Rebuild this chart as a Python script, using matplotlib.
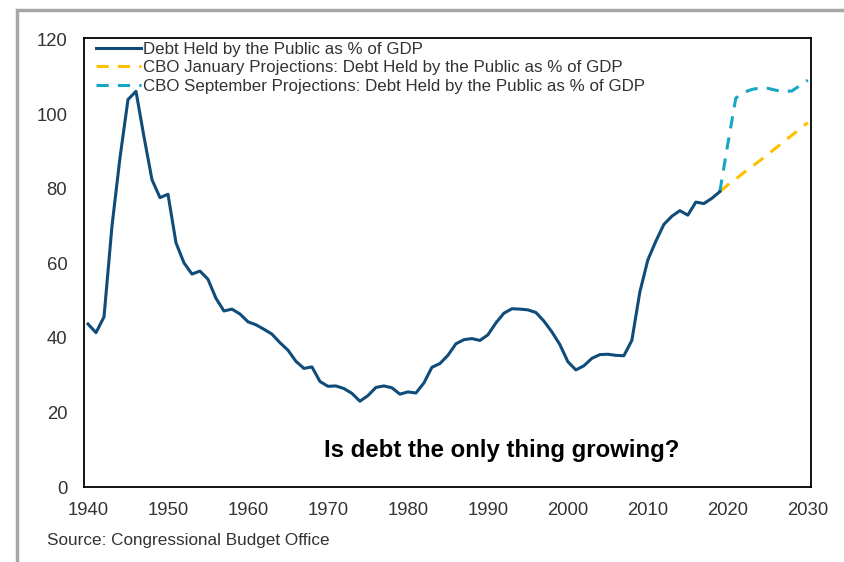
import matplotlib.pyplot as plt
from matplotlib.patches import Rectangle

plt.rcParams['font.family'] = ['Liberation Sans', 'DejaVu Sans']

# debt held by the public, % of GDP (history)
years = list(range(1940, 2020))
debt = [43.7, 41.4, 45.6, 70.0, 88.3, 103.9, 106.1, 93.9, 82.4, 77.6,
        78.5, 65.5, 60.1, 57.1, 57.9, 55.7, 50.6, 47.2, 47.7, 46.4,
        44.3, 43.5, 42.3, 41.0, 38.7, 36.7, 33.7, 31.8, 32.2, 28.3,
        27.0, 27.1, 26.4, 25.1, 23.0, 24.5, 26.7, 27.1, 26.6, 24.9,
        25.5, 25.2, 27.9, 32.1, 33.1, 35.3, 38.4, 39.5, 39.8, 39.3,
        40.8, 44.0, 46.6, 47.8, 47.7, 47.5, 46.8, 44.5, 41.6, 38.2,
        33.6, 31.4, 32.5, 34.5, 35.5, 35.6, 35.3, 35.2, 39.3, 52.3,
        60.9, 65.9, 70.4, 72.6, 74.1, 72.9, 76.4, 76.0, 77.4, 79.2]

# CBO projections
proj_years = list(range(2019, 2031))
jan_proj = [79.2, 81.0, 82.6, 84.3, 85.9, 87.5, 89.2, 90.9, 92.6, 94.3, 96.0, 97.7]
sep_proj = [79.2, 92.0, 104.3, 105.8, 106.6, 107.0, 106.9, 106.4, 106.0, 106.2, 107.6, 109.1]

labels = ['Debt Held by the Public as % of GDP',
          'CBO January Projections: Debt Held by the Public as % of GDP',
          'CBO September Projections: Debt Held by the Public as % of GDP']

fig = plt.figure(figsize=(8.45, 5.62), dpi=100)
ax = fig.add_axes([84 / 845, 75 / 562, 727 / 845, 449 / 562])

ax.plot(proj_years, jan_proj, color='#ffc000', lw=2.2, dashes=(4, 3), label=labels[1])
ax.plot(proj_years, sep_proj, color='#17a6c6', lw=2.2, dashes=(4, 3), label=labels[2])
ax.plot(years, debt, color='#0f4c7a', lw=2.2, label=labels[0], solid_joinstyle='round')

ax.set_xlim(1939.5, 2030.4)
ax.set_ylim(0, 120.4)
ax.set_xticks(range(1940, 2031, 10))
ax.set_yticks(range(0, 121, 20))
ax.tick_params(length=0, labelsize=13.3, colors='#333333')
ax.tick_params(axis='x', pad=11)
ax.tick_params(axis='y', pad=12)
for s in ax.spines.values():
    s.set_linewidth(1.3)
    s.set_color('black')

h, l = ax.get_legend_handles_labels()
order = [2, 0, 1]
ax.legend([h[i] for i in order], [l[i] for i in order], loc='upper left',
          bbox_to_anchor=(-0.005, 1.025), frameon=False, fontsize=12.2,
          handlelength=2.7, handletextpad=0.1, labelspacing=0.2,
          labelcolor='#333333')

ax.text(502 / 845, 1 - 450 / 562, 'Is debt the only thing growing?',
        transform=fig.transFigure, ha='center', va='center',
        fontsize=17.3, fontweight='bold')
fig.text(47 / 845, 1 - 541 / 562, 'Source: Congressional Budget Office',
         fontsize=12.3, color='#333333', va='center')

# gray frame around the chart
fig.add_artist(Rectangle((17 / 845, -0.1), 1.0, 1 - 10 / 562 + 0.1,
                         transform=fig.transFigure, fill=False,
                         edgecolor='#a6a6a6', lw=2.5))

fig.savefig('out.png', dpi=100)
